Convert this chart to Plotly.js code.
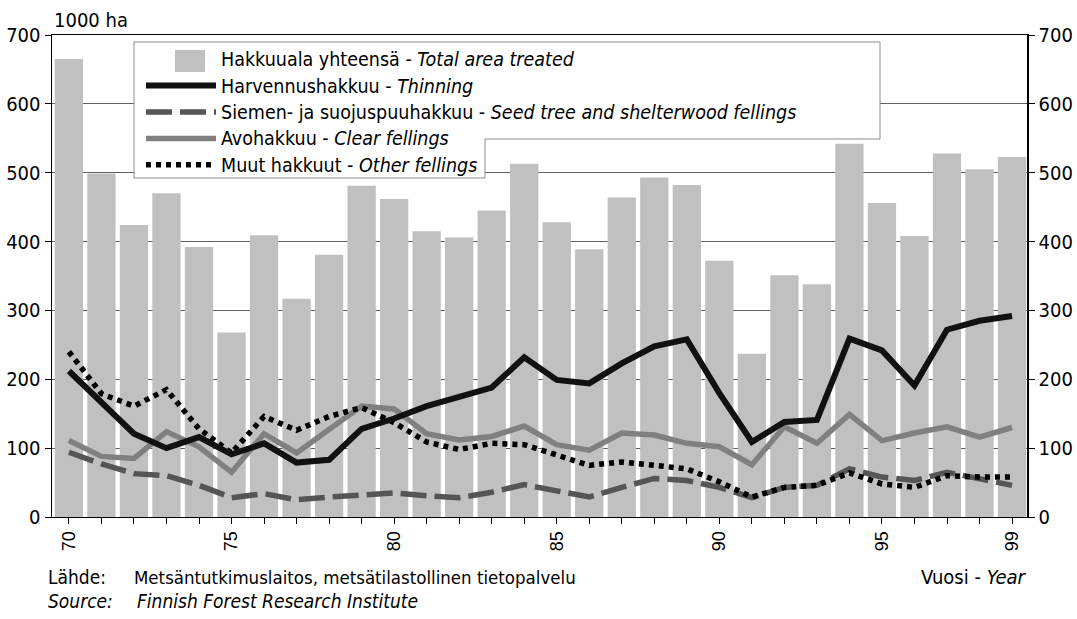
<!DOCTYPE html>
<html>
<head>
<meta charset="utf-8">
<script src="https://cdn.plot.ly/plotly-3.0.1.min.js"></script>
<style>
  html, body { margin: 0; padding: 0; background: #fff; }
  #chart { width: 1077px; height: 619px; }
</style>
</head>
<body>
<div id="chart"></div>
<script>
const years = [1970,1971,1972,1973,1974,1975,1976,1977,1978,1979,1980,1981,1982,1983,1984,1985,1986,1987,1988,1989,1990,1991,1992,1993,1994,1995,1996,1997,1998,1999];
const yearLabels = ['70','','','','','75','','','','','80','','','','','85','','','','','90','','','','','95','','','','99'];
const totalArea = [665,499,424,470,392,268,409,317,381,481,462,415,406,445,513,428,389,464,493,482,372,237,351,338,542,456,408,528,505,523];
const thinning = [212,167,121,100,116,91,107,79,83,128,143,161,174,188,232,199,194,223,248,258,180,109,138,141,259,242,191,272,285,292];
const seedTree = [94,77,63,60,46,28,34,25,29,33,35,31,28,36,47,38,29,43,56,53,43,28,43,46,70,58,53,65,56,46];
const clearFell = [111,88,85,124,102,65,121,93,127,161,157,121,112,117,132,105,97,122,119,107,102,76,131,107,149,111,122,131,116,130];
const otherFell = [240,179,161,185,128,93,146,126,146,159,137,109,98,107,105,90,75,80,76,70,51,29,43,46,64,48,43,60,58,58];

const names = [
  'Hakkuuala yhteensä - <i>Total area treated</i>',
  'Harvennushakkuu - <i>Thinning</i>',
  'Siemen- ja suojuspuuhakkuu - <i>Seed tree and shelterwood fellings</i>',
  'Avohakkuu - <i>Clear fellings</i>',
  'Muut hakkuut - <i>Other fellings</i>'
];
const wrap = s => '<span style="font-size:19.5px">' + s + '</span>';

const NARROW = '"DejaVu Sans Condensed", "Liberation Sans Narrow", sans-serif';
const SANS = '"Liberation Sans", Arial, sans-serif';

const traces = [
  {type:'bar', x: years, y: totalArea, name: wrap(names[0]), width: 0.87, yaxis: 'y',
   marker:{color:'#c0c0c0', line:{width:0}}, hoverinfo:'skip', legendrank: 1},
  {type:'scatter', mode:'lines', x: years, y: seedTree, name: wrap(names[2]), yaxis: 'y2', legendrank: 3,
   line:{color:'#555555', width:5.5, dash:'26px,8px'}},
  {type:'scatter', mode:'lines', x: years, y: clearFell, name: wrap(names[3]), yaxis: 'y2', legendrank: 4,
   line:{color:'#808080', width:5.5}},
  {type:'scatter', mode:'lines', x: years, y: otherFell, name: wrap(names[4]), yaxis: 'y2', legendrank: 5,
   line:{color:'#000000', width:5.5, dash:'5px,5px'}},
  {type:'scatter', mode:'lines', x: years, y: thinning, name: wrap(names[1]), yaxis: 'y2', legendrank: 2,
   line:{color:'#111111', width:6}}
];

const L = 52, R = 1027, T = 35, B = 517;
const W = R - L, H = B - T;
const px = v => (v - L) / W;
const py = v => (B - v) / H;

const layout = {
  width: 1077, height: 619,
  margin: {l: L, r: 1077 - R, t: T, b: 619 - B, pad: 0},
  paper_bgcolor: '#ffffff', plot_bgcolor: '#ffffff',
  font: {family: NARROW, size: 19, color: '#000'},
  showlegend: true,
  legend: {
    x: px(141), y: py(41), xanchor: 'left', yanchor: 'top',
    bgcolor: 'rgba(0,0,0,0)', borderwidth: 0,
    font: {family: NARROW, size: 18, color: '#000'},
    itemwidth: 70, traceorder: 'normal', itemclick: false
  },
  xaxis: {
    range: [1969.48, 1999.46], tickmode: 'array', tickvals: years, ticktext: yearLabels,
    tickangle: -90, ticks: 'outside', ticklen: 6, tickcolor: '#000', tickwidth: 1,
    showline: true, linecolor: '#000', linewidth: 1, mirror: true,
    showgrid: false, zeroline: false,
    tickfont: {family: SANS, size: 18, color: '#000'}
  },
  yaxis: {
    range: [0, 700], dtick: 100, ticks: 'outside', ticklen: 6, tickcolor: '#000',
    showline: true, linecolor: '#000', linewidth: 1.5,
    showgrid: true, gridcolor: '#606060', gridwidth: 1, zeroline: false,
    tickfont: {family: NARROW, size: 20, color: '#000'}
  },
  yaxis2: {
    range: [0, 700], dtick: 100, ticks: 'outside', ticklen: 6, tickcolor: '#000',
    overlaying: 'y', side: 'right', anchor: 'x',
    showline: true, linecolor: '#000', linewidth: 1.5,
    showgrid: false, zeroline: false,
    tickfont: {family: NARROW, size: 20, color: '#000'}
  },
  shapes: [
    {type:'path', xref:'paper', yref:'paper', layer:'above',
     path: 'M' + px(134) + ',' + py(42) + ' L' + px(880) + ',' + py(42) +
           ' L' + px(880) + ',' + py(139) + ' L' + px(485) + ',' + py(139) +
           ' L' + px(485) + ',' + py(178) + ' L' + px(134) + ',' + py(178) + ' Z',
     fillcolor: '#ffffff', line: {color: '#8c8c8c', width: 1}},
    {type:'rect', xref:'paper', yref:'paper', layer:'above',
     x0: px(175), x1: px(205), y0: py(72), y1: py(50),
     fillcolor: '#c0c0c0', line: {width: 0}}
  ],
  annotations: [
    {text: '1000 ha', xref:'paper', yref:'paper', x: px(52), y: py(20), xanchor:'left', yanchor:'middle',
     showarrow:false, font:{family: NARROW, size: 20}},
    {text: 'Lähde:', xref:'paper', yref:'paper', x: px(46), y: py(577), xanchor:'left', yanchor:'middle',
     showarrow:false, font:{family: NARROW, size: 19}},
    {text: 'Metsäntutkimuslaitos, metsätilastollinen tietopalvelu', xref:'paper', yref:'paper', x: px(132), y: py(577),
     xanchor:'left', yanchor:'middle', showarrow:false, font:{family: NARROW, size: 18.5}},
    {text: '<i>Source:</i>', xref:'paper', yref:'paper', x: px(46), y: py(601), xanchor:'left', yanchor:'middle',
     showarrow:false, font:{family: NARROW, size: 19}},
    {text: '<i>Finnish Forest Research Institute</i>', xref:'paper', yref:'paper', x: px(135), y: py(601),
     xanchor:'left', yanchor:'middle', showarrow:false, font:{family: NARROW, size: 19}},
    {text: 'Vuosi - <i>Year</i>', xref:'paper', yref:'paper', x: px(1029), y: py(577), xanchor:'right', yanchor:'middle',
     showarrow:false, font:{family: NARROW, size: 20}}
  ]
};

Plotly.newPlot('chart', traces, layout, {displayModeBar: false, staticPlot: true});
</script>
</body>
</html>
